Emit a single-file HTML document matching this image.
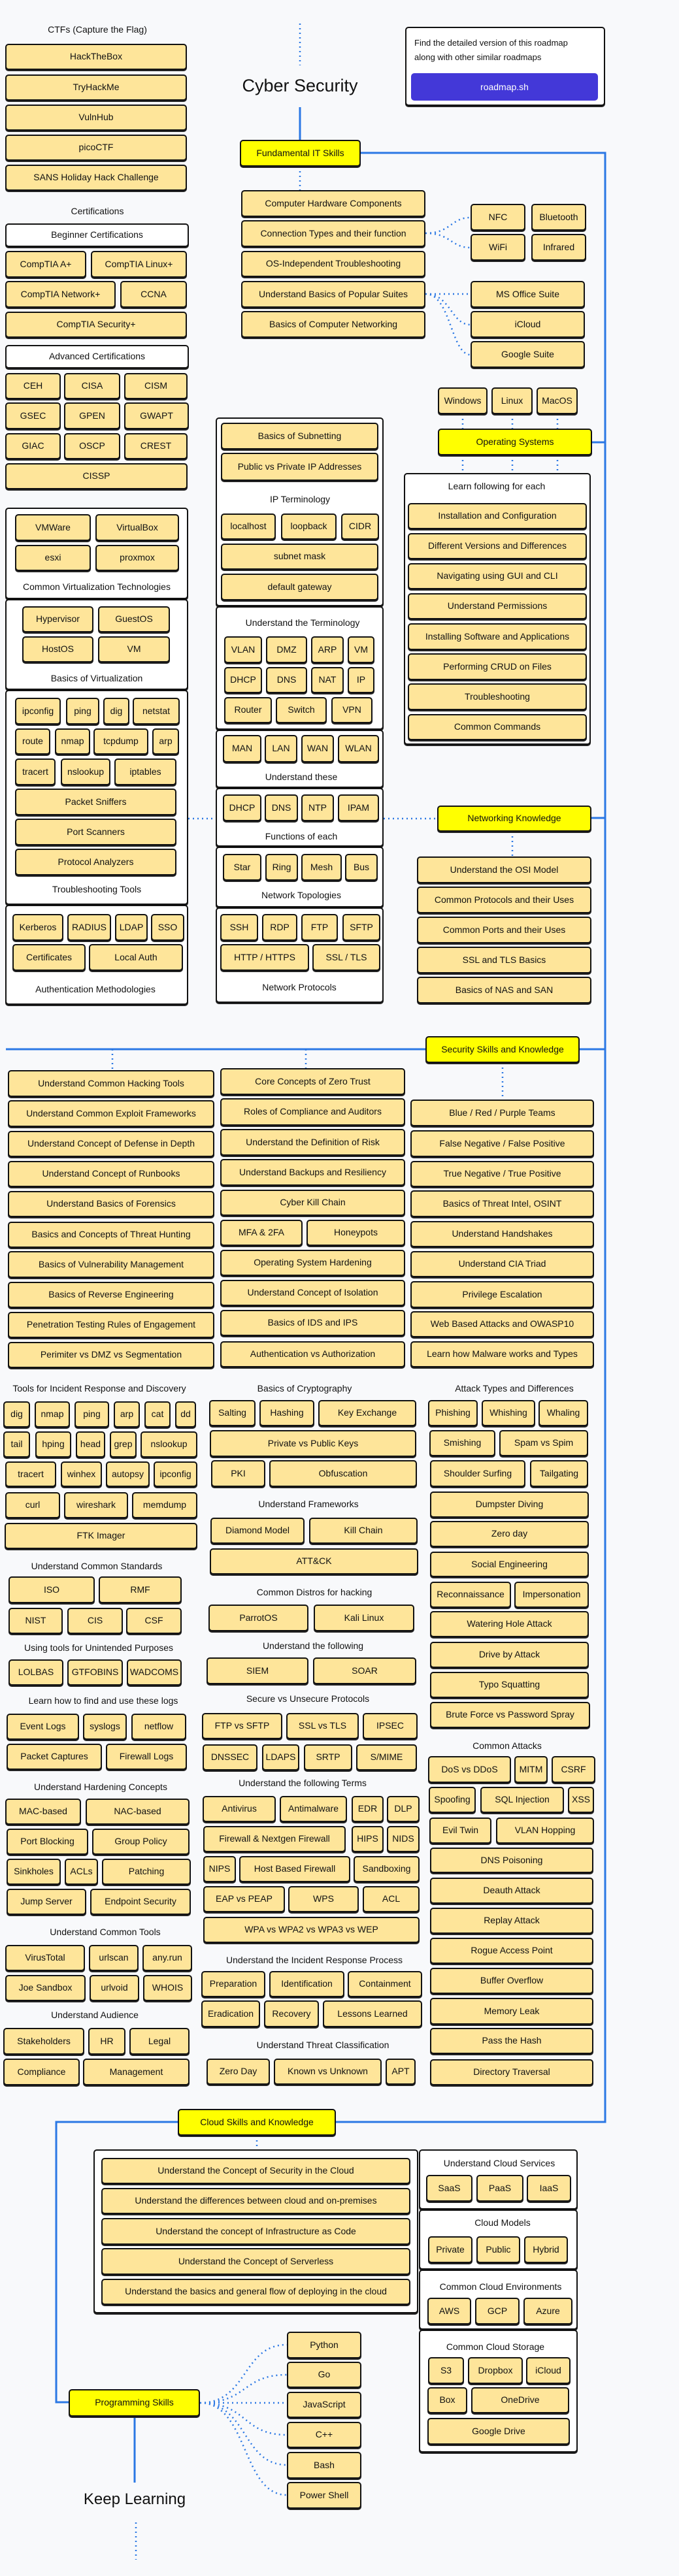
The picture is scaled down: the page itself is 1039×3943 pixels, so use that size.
<!DOCTYPE html>
<html><head><meta charset="utf-8"><style>
*{box-sizing:border-box;margin:0;padding:0}
body{width:1039px;height:3943px;background:#f8f9fb;position:relative;font-family:"Liberation Sans",sans-serif;overflow:hidden}
.n,.y,.w,.g{position:absolute;border:2px solid #111;border-radius:5px;display:flex;align-items:center;justify-content:center;text-align:center;font-size:14px;color:#111;box-shadow:0 2px 0 #222;line-height:1.1;white-space:nowrap}
.n{background:#fee59a}
.y{background:#ffff00}
.w{background:#fff}
.g{background:#fff;box-shadow:0 2px 0 #222}
.t{position:absolute;width:340px;text-align:center;font-size:14px;color:#111;white-space:nowrap}
svg{position:absolute;left:0;top:0}
</style></head><body>
<div class="g" style="left:620px;top:41px;width:306px;height:121px;display:block"></div>
<div style="position:absolute;left:634px;top:55px;font-size:13px;line-height:22px;color:#111">Find the detailed version of this roadmap<br>along with other similar roadmaps</div>
<div style="position:absolute;left:629px;top:112px;width:286px;height:42px;background:#4338d8;border-radius:5px;color:#fff;font-size:14px;display:flex;align-items:center;justify-content:center">roadmap.sh</div>
<div style="position:absolute;left:309px;top:116px;width:300px;text-align:center;font-size:27px;color:#111">Cyber Security</div>
<div style="position:absolute;left:56px;top:3812px;width:300px;text-align:center;font-size:24px;color:#111">Keep Learning</div>

<!-- groups -->
<div class="g" style="left:8px;top:777px;width:280px;height:140px"></div>
<div class="g" style="left:8px;top:917px;width:280px;height:139px"></div>
<div class="g" style="left:8px;top:1056px;width:280px;height:329px"></div>
<div class="g" style="left:8px;top:1385px;width:280px;height:153px"></div>
<div class="g" style="left:330px;top:639px;width:257px;height:289px"></div>
<div class="g" style="left:330px;top:928px;width:257px;height:189px"></div>
<div class="g" style="left:330px;top:1117px;width:257px;height:89px"></div>
<div class="g" style="left:330px;top:1206px;width:257px;height:90px"></div>
<div class="g" style="left:330px;top:1296px;width:257px;height:93px"></div>
<div class="g" style="left:330px;top:1389px;width:257px;height:146px"></div>
<div class="g" style="left:618px;top:724px;width:286px;height:416px"></div>
<div class="g" style="left:143px;top:3290px;width:497px;height:251px"></div>
<div class="g" style="left:641px;top:3290px;width:243px;height:92px"></div>
<div class="g" style="left:641px;top:3382px;width:243px;height:92px"></div>
<div class="g" style="left:641px;top:3474px;width:243px;height:92px"></div>
<div class="g" style="left:641px;top:3566px;width:243px;height:188px"></div>

<svg width="1039" height="3943">
<g stroke="#2b78e4" stroke-width="3" fill="none">
<path d="M459 164V214M552 234H926V3248H86V3677H105M906 677H926M905 1252H926M9 1606H651M887 1606H926M206 3699V3800"/>
</g>
<g stroke="#2b78e4" stroke-width="2.5" fill="none" stroke-dasharray="2 5">
<path d="M459 36V100M459 255V291M708 634V656M784 634V656M853 634V656M708 697V724M784 697V724M853 697V724M288 1253H330M587 1253H669M784 1273V1311M172 1606V1638M468 1606V1635M769 1627V1683M393 3269V3290M208 3861V3918"/>
<path d="M651 357C690 357 690 333 720 333M651 357C690 357 690 379 720 379"/>
<path d="M651 450H720M651 450C690 450 690 497 720 497M651 450C690 450 690 543 720 543"/>
<path d="M306 3678C380 3678 370 3589 439 3589M306 3678C380 3678 370 3635 439 3635M306 3678H439M306 3678C380 3678 370 3727 439 3727M306 3678C380 3678 370 3773 439 3773M306 3678C380 3678 370 3819 439 3819"/>
</g>
</svg>

<!-- labels -->
<div class="t" style="left:-21px;top:37px">CTFs (Capture the Flag)</div>
<div class="t" style="left:-21px;top:315px">Certifications</div>
<div class="t" style="left:-22px;top:890px">Common Virtualization Technologies</div>
<div class="t" style="left:-22px;top:1030px">Basics of Virtualization</div>
<div class="t" style="left:-22px;top:1353px">Troubleshooting Tools</div>
<div class="t" style="left:-24px;top:1506px">Authentication Methodologies</div>
<div class="t" style="left:289px;top:756px">IP Terminology</div>
<div class="t" style="left:293px;top:945px">Understand the Terminology</div>
<div class="t" style="left:291px;top:1181px">Understand these</div>
<div class="t" style="left:291px;top:1272px">Functions of each</div>
<div class="t" style="left:291px;top:1362px">Network Topologies</div>
<div class="t" style="left:288px;top:1503px">Network Protocols</div>
<div class="t" style="left:590px;top:736px">Learn following for each</div>
<div class="t" style="left:-18px;top:2117px">Tools for Incident Response and Discovery</div>
<div class="t" style="left:296px;top:2117px">Basics of Cryptography</div>
<div class="t" style="left:617px;top:2117px">Attack Types and Differences</div>
<div class="t" style="left:-22px;top:2389px">Understand Common Standards</div>
<div class="t" style="left:-19px;top:2514px">Using tools for Unintended Purposes</div>
<div class="t" style="left:-12px;top:2595px">Learn how to find and use these logs</div>
<div class="t" style="left:-16px;top:2727px">Understand Hardening Concepts</div>
<div class="t" style="left:-9px;top:2949px">Understand Common Tools</div>
<div class="t" style="left:-25px;top:3076px">Understand Audience</div>
<div class="t" style="left:302px;top:2294px">Understand Frameworks</div>
<div class="t" style="left:311px;top:2429px">Common Distros for hacking</div>
<div class="t" style="left:309px;top:2511px">Understand the following</div>
<div class="t" style="left:301px;top:2592px">Secure vs Unsecure Protocols</div>
<div class="t" style="left:293px;top:2721px">Understand the following Terms</div>
<div class="t" style="left:311px;top:2992px">Understand the Incident Response Process</div>
<div class="t" style="left:324px;top:3122px">Understand Threat Classification</div>
<div class="t" style="left:606px;top:2664px">Common Attacks</div>
<div class="t" style="left:594px;top:3303px">Understand Cloud Services</div>
<div class="t" style="left:599px;top:3394px">Cloud Models</div>
<div class="t" style="left:596px;top:3492px">Common Cloud Environments</div>
<div class="t" style="left:588px;top:3584px">Common Cloud Storage</div>

<!-- yellow keys -->
<div class="y" style="left:367px;top:214px;width:185px;height:41px">Fundamental IT Skills</div>
<div class="y" style="left:670px;top:656px;width:236px;height:41px">Operating Systems</div>
<div class="y" style="left:669px;top:1233px;width:236px;height:40px">Networking Knowledge</div>
<div class="y" style="left:651px;top:1586px;width:236px;height:41px">Security Skills and Knowledge</div>
<div class="y" style="left:272px;top:3228px;width:242px;height:41px">Cloud Skills and Knowledge</div>
<div class="y" style="left:105px;top:3657px;width:201px;height:42px">Programming Skills</div>

<!-- left top -->
<div class="n" style="left:8px;top:67px;width:278px;height:40px">HackTheBox</div>
<div class="n" style="left:8px;top:114px;width:278px;height:40px">TryHackMe</div>
<div class="n" style="left:8px;top:160px;width:278px;height:40px">VulnHub</div>
<div class="n" style="left:8px;top:206px;width:278px;height:40px">picoCTF</div>
<div class="n" style="left:8px;top:252px;width:278px;height:40px">SANS Holiday Hack Challenge</div>
<div class="w" style="left:8px;top:342px;width:281px;height:36px">Beginner Certifications</div>
<div class="n" style="left:8px;top:384px;width:124px;height:41px">CompTIA A+</div>
<div class="n" style="left:139px;top:384px;width:147px;height:41px">CompTIA Linux+</div>
<div class="n" style="left:8px;top:430px;width:169px;height:41px">CompTIA Network+</div>
<div class="n" style="left:184px;top:430px;width:102px;height:41px">CCNA</div>
<div class="n" style="left:8px;top:477px;width:278px;height:40px">CompTIA Security+</div>
<div class="w" style="left:8px;top:528px;width:281px;height:36px">Advanced Certifications</div>
<div class="n" style="left:8px;top:571px;width:85px;height:40px">CEH</div>
<div class="n" style="left:98px;top:571px;width:86px;height:40px">CISA</div>
<div class="n" style="left:190px;top:571px;width:97px;height:40px">CISM</div>
<div class="n" style="left:8px;top:616px;width:85px;height:41px">GSEC</div>
<div class="n" style="left:98px;top:616px;width:86px;height:41px">GPEN</div>
<div class="n" style="left:190px;top:616px;width:99px;height:41px">GWAPT</div>
<div class="n" style="left:8px;top:663px;width:85px;height:40px">GIAC</div>
<div class="n" style="left:98px;top:663px;width:86px;height:40px">OSCP</div>
<div class="n" style="left:190px;top:663px;width:97px;height:40px">CREST</div>
<div class="n" style="left:8px;top:709px;width:279px;height:40px">CISSP</div>

<div class="n" style="left:23px;top:787px;width:116px;height:41px">VMWare</div>
<div class="n" style="left:146px;top:787px;width:128px;height:41px">VirtualBox</div>
<div class="n" style="left:23px;top:834px;width:116px;height:40px">esxi</div>
<div class="n" style="left:146px;top:834px;width:128px;height:40px">proxmox</div>
<div class="n" style="left:34px;top:928px;width:109px;height:40px">Hypervisor</div>
<div class="n" style="left:150px;top:928px;width:110px;height:40px">GuestOS</div>
<div class="n" style="left:34px;top:974px;width:109px;height:40px">HostOS</div>
<div class="n" style="left:150px;top:974px;width:110px;height:40px">VM</div>
<div class="n" style="left:23px;top:1068px;width:70px;height:41px">ipconfig</div>
<div class="n" style="left:101px;top:1068px;width:51px;height:41px">ping</div>
<div class="n" style="left:158px;top:1068px;width:40px;height:41px">dig</div>
<div class="n" style="left:203px;top:1068px;width:72px;height:41px">netstat</div>
<div class="n" style="left:23px;top:1115px;width:54px;height:40px">route</div>
<div class="n" style="left:84px;top:1115px;width:54px;height:40px">nmap</div>
<div class="n" style="left:143px;top:1115px;width:84px;height:40px">tcpdump</div>
<div class="n" style="left:233px;top:1115px;width:41px;height:40px">arp</div>
<div class="n" style="left:23px;top:1161px;width:62px;height:41px">tracert</div>
<div class="n" style="left:93px;top:1161px;width:76px;height:41px">nslookup</div>
<div class="n" style="left:175px;top:1161px;width:95px;height:41px">iptables</div>
<div class="n" style="left:23px;top:1207px;width:247px;height:41px">Packet Sniffers</div>
<div class="n" style="left:23px;top:1253px;width:247px;height:41px">Port Scanners</div>
<div class="n" style="left:23px;top:1299px;width:247px;height:41px">Protocol Analyzers</div>
<div class="n" style="left:19px;top:1399px;width:78px;height:41px">Kerberos</div>
<div class="n" style="left:103px;top:1399px;width:67px;height:41px">RADIUS</div>
<div class="n" style="left:176px;top:1399px;width:50px;height:41px">LDAP</div>
<div class="n" style="left:231px;top:1399px;width:51px;height:41px">SSO</div>
<div class="n" style="left:19px;top:1445px;width:112px;height:41px">Certificates</div>
<div class="n" style="left:136px;top:1445px;width:144px;height:41px">Local Auth</div>

<!-- middle top -->
<div class="n" style="left:369px;top:291px;width:282px;height:41px">Computer Hardware Components</div>
<div class="n" style="left:369px;top:337px;width:282px;height:41px">Connection Types and their function</div>
<div class="n" style="left:369px;top:384px;width:282px;height:40px">OS-Independent Troubleshooting</div>
<div class="n" style="left:369px;top:430px;width:282px;height:41px">Understand Basics of Popular Suites</div>
<div class="n" style="left:369px;top:476px;width:282px;height:41px">Basics of Computer Networking</div>
<div class="n" style="left:720px;top:312px;width:84px;height:41px">NFC</div>
<div class="n" style="left:813px;top:312px;width:84px;height:41px">Bluetooth</div>
<div class="n" style="left:720px;top:358px;width:84px;height:41px">WiFi</div>
<div class="n" style="left:813px;top:358px;width:84px;height:41px">Infrared</div>
<div class="n" style="left:720px;top:430px;width:175px;height:41px">MS Office Suite</div>
<div class="n" style="left:720px;top:476px;width:175px;height:41px">iCloud</div>
<div class="n" style="left:720px;top:522px;width:175px;height:41px">Google Suite</div>

<div class="n" style="left:670px;top:593px;width:76px;height:41px">Windows</div>
<div class="n" style="left:752px;top:593px;width:63px;height:41px">Linux</div>
<div class="n" style="left:821px;top:593px;width:63px;height:41px">MacOS</div>
<div class="n" style="left:624px;top:770px;width:274px;height:40px">Installation and Configuration</div>
<div class="n" style="left:624px;top:816px;width:274px;height:40px">Different Versions and Differences</div>
<div class="n" style="left:624px;top:862px;width:274px;height:40px">Navigating using GUI and CLI</div>
<div class="n" style="left:624px;top:908px;width:274px;height:40px">Understand Permissions</div>
<div class="n" style="left:624px;top:954px;width:274px;height:41px">Installing Software and Applications</div>
<div class="n" style="left:624px;top:1000px;width:274px;height:41px">Performing CRUD on Files</div>
<div class="n" style="left:624px;top:1046px;width:274px;height:41px">Troubleshooting</div>
<div class="n" style="left:624px;top:1093px;width:274px;height:40px">Common Commands</div>

<div class="n" style="left:338px;top:647px;width:241px;height:41px">Basics of Subnetting</div>
<div class="n" style="left:338px;top:693px;width:241px;height:43px">Public vs Private IP Addresses</div>
<div class="n" style="left:338px;top:786px;width:84px;height:40px">localhost</div>
<div class="n" style="left:430px;top:786px;width:85px;height:40px">loopback</div>
<div class="n" style="left:522px;top:786px;width:58px;height:40px">CIDR</div>
<div class="n" style="left:338px;top:832px;width:241px;height:40px">subnet mask</div>
<div class="n" style="left:338px;top:878px;width:241px;height:41px">default gateway</div>
<div class="n" style="left:343px;top:974px;width:58px;height:41px">VLAN</div>
<div class="n" style="left:407px;top:974px;width:63px;height:41px">DMZ</div>
<div class="n" style="left:476px;top:974px;width:50px;height:41px">ARP</div>
<div class="n" style="left:532px;top:974px;width:41px;height:41px">VM</div>
<div class="n" style="left:343px;top:1021px;width:58px;height:40px">DHCP</div>
<div class="n" style="left:407px;top:1021px;width:63px;height:40px">DNS</div>
<div class="n" style="left:476px;top:1021px;width:50px;height:40px">NAT</div>
<div class="n" style="left:532px;top:1021px;width:41px;height:40px">IP</div>
<div class="n" style="left:343px;top:1067px;width:73px;height:40px">Router</div>
<div class="n" style="left:422px;top:1067px;width:78px;height:40px">Switch</div>
<div class="n" style="left:507px;top:1067px;width:63px;height:40px">VPN</div>
<div class="n" style="left:341px;top:1125px;width:59px;height:42px">MAN</div>
<div class="n" style="left:405px;top:1125px;width:50px;height:42px">LAN</div>
<div class="n" style="left:461px;top:1125px;width:50px;height:42px">WAN</div>
<div class="n" style="left:517px;top:1125px;width:63px;height:42px">WLAN</div>
<div class="n" style="left:341px;top:1216px;width:59px;height:41px">DHCP</div>
<div class="n" style="left:405px;top:1216px;width:51px;height:41px">DNS</div>
<div class="n" style="left:461px;top:1216px;width:50px;height:41px">NTP</div>
<div class="n" style="left:517px;top:1216px;width:63px;height:41px">IPAM</div>
<div class="n" style="left:341px;top:1307px;width:59px;height:41px">Star</div>
<div class="n" style="left:406px;top:1307px;width:50px;height:41px">Ring</div>
<div class="n" style="left:461px;top:1307px;width:62px;height:41px">Mesh</div>
<div class="n" style="left:528px;top:1307px;width:50px;height:41px">Bus</div>
<div class="n" style="left:337px;top:1399px;width:58px;height:41px">SSH</div>
<div class="n" style="left:401px;top:1399px;width:54px;height:41px">RDP</div>
<div class="n" style="left:461px;top:1399px;width:56px;height:41px">FTP</div>
<div class="n" style="left:524px;top:1399px;width:58px;height:41px">SFTP</div>
<div class="n" style="left:337px;top:1445px;width:136px;height:41px">HTTP / HTTPS</div>
<div class="n" style="left:478px;top:1445px;width:104px;height:41px">SSL / TLS</div>

<div class="n" style="left:638px;top:1311px;width:267px;height:41px">Understand the OSI Model</div>
<div class="n" style="left:638px;top:1357px;width:267px;height:41px">Common Protocols and their Uses</div>
<div class="n" style="left:638px;top:1403px;width:267px;height:41px">Common Ports and their Uses</div>
<div class="n" style="left:638px;top:1449px;width:267px;height:41px">SSL and TLS Basics</div>
<div class="n" style="left:638px;top:1495px;width:267px;height:41px">Basics of NAS and SAN</div>

<!-- security grid -->
<div class="n" style="left:12px;top:1638px;width:316px;height:41px">Understand Common Hacking Tools</div>
<div class="n" style="left:12px;top:1684px;width:316px;height:41px">Understand Common Exploit Frameworks</div>
<div class="n" style="left:12px;top:1731px;width:316px;height:40px">Understand Concept of Defense in Depth</div>
<div class="n" style="left:12px;top:1777px;width:316px;height:40px">Understand Concept of Runbooks</div>
<div class="n" style="left:12px;top:1823px;width:316px;height:40px">Understand Basics of Forensics</div>
<div class="n" style="left:12px;top:1870px;width:316px;height:40px">Basics and Concepts of Threat Hunting</div>
<div class="n" style="left:12px;top:1915px;width:316px;height:41px">Basics of Vulnerability Management</div>
<div class="n" style="left:12px;top:1962px;width:316px;height:40px">Basics of Reverse Engineering</div>
<div class="n" style="left:12px;top:2008px;width:316px;height:40px">Penetration Testing Rules of Engagement</div>
<div class="n" style="left:12px;top:2054px;width:316px;height:40px">Perimiter vs DMZ vs Segmentation</div>
<div class="n" style="left:337px;top:1635px;width:283px;height:41px">Core Concepts of Zero Trust</div>
<div class="n" style="left:337px;top:1681px;width:283px;height:42px">Roles of Compliance and Auditors</div>
<div class="n" style="left:337px;top:1728px;width:283px;height:41px">Understand the Definition of Risk</div>
<div class="n" style="left:337px;top:1774px;width:283px;height:41px">Understand Backups and Resiliency</div>
<div class="n" style="left:337px;top:1821px;width:283px;height:40px">Cyber Kill Chain</div>
<div class="n" style="left:337px;top:1867px;width:126px;height:40px">MFA &amp; 2FA</div>
<div class="n" style="left:469px;top:1867px;width:151px;height:40px">Honeypots</div>
<div class="n" style="left:337px;top:1913px;width:283px;height:40px">Operating System Hardening</div>
<div class="n" style="left:337px;top:1959px;width:283px;height:40px">Understand Concept of Isolation</div>
<div class="n" style="left:337px;top:2005px;width:283px;height:40px">Basics of IDS and IPS</div>
<div class="n" style="left:337px;top:2053px;width:283px;height:40px">Authentication vs Authorization</div>
<div class="n" style="left:628px;top:1683px;width:281px;height:41px">Blue / Red / Purple Teams</div>
<div class="n" style="left:628px;top:1730px;width:281px;height:41px">False Negative / False Positive</div>
<div class="n" style="left:628px;top:1777px;width:281px;height:40px">True Negative / True Positive</div>
<div class="n" style="left:628px;top:1822px;width:281px;height:41px">Basics of Threat Intel, OSINT</div>
<div class="n" style="left:628px;top:1869px;width:281px;height:40px">Understand Handshakes</div>
<div class="n" style="left:628px;top:1915px;width:281px;height:40px">Understand CIA Triad</div>
<div class="n" style="left:628px;top:1961px;width:281px;height:41px">Privilege Escalation</div>
<div class="n" style="left:628px;top:2007px;width:281px;height:40px">Web Based Attacks and OWASP10</div>
<div class="n" style="left:628px;top:2053px;width:281px;height:40px">Learn how Malware works and Types</div>

<!-- IR tools -->
<div class="n" style="left:5px;top:2145px;width:41px;height:40px">dig</div>
<div class="n" style="left:53px;top:2145px;width:54px;height:40px">nmap</div>
<div class="n" style="left:114px;top:2145px;width:53px;height:40px">ping</div>
<div class="n" style="left:174px;top:2145px;width:40px;height:40px">arp</div>
<div class="n" style="left:221px;top:2145px;width:40px;height:40px">cat</div>
<div class="n" style="left:268px;top:2145px;width:32px;height:40px">dd</div>
<div class="n" style="left:5px;top:2191px;width:41px;height:40px">tail</div>
<div class="n" style="left:54px;top:2191px;width:55px;height:40px">hping</div>
<div class="n" style="left:116px;top:2191px;width:45px;height:40px">head</div>
<div class="n" style="left:168px;top:2191px;width:41px;height:40px">grep</div>
<div class="n" style="left:215px;top:2191px;width:87px;height:40px">nslookup</div>
<div class="n" style="left:8px;top:2237px;width:78px;height:39px">tracert</div>
<div class="n" style="left:93px;top:2237px;width:63px;height:39px">winhex</div>
<div class="n" style="left:162px;top:2237px;width:67px;height:39px">autopsy</div>
<div class="n" style="left:235px;top:2237px;width:67px;height:39px">ipconfig</div>
<div class="n" style="left:8px;top:2284px;width:84px;height:40px">curl</div>
<div class="n" style="left:98px;top:2284px;width:98px;height:40px">wireshark</div>
<div class="n" style="left:202px;top:2284px;width:100px;height:40px">memdump</div>
<div class="n" style="left:7px;top:2331px;width:295px;height:40px">FTK Imager</div>
<div class="n" style="left:13px;top:2413px;width:132px;height:41px">ISO</div>
<div class="n" style="left:151px;top:2413px;width:127px;height:41px">RMF</div>
<div class="n" style="left:13px;top:2461px;width:83px;height:40px">NIST</div>
<div class="n" style="left:103px;top:2461px;width:85px;height:40px">CIS</div>
<div class="n" style="left:193px;top:2461px;width:85px;height:40px">CSF</div>
<div class="n" style="left:13px;top:2540px;width:84px;height:40px">LOLBAS</div>
<div class="n" style="left:103px;top:2540px;width:85px;height:40px">GTFOBINS</div>
<div class="n" style="left:194px;top:2540px;width:84px;height:40px">WADCOMS</div>
<div class="n" style="left:10px;top:2623px;width:111px;height:40px">Event Logs</div>
<div class="n" style="left:127px;top:2623px;width:67px;height:40px">syslogs</div>
<div class="n" style="left:201px;top:2623px;width:84px;height:40px">netflow</div>
<div class="n" style="left:10px;top:2669px;width:146px;height:40px">Packet Captures</div>
<div class="n" style="left:162px;top:2669px;width:124px;height:40px">Firewall Logs</div>
<div class="n" style="left:8px;top:2753px;width:116px;height:40px">MAC-based</div>
<div class="n" style="left:131px;top:2753px;width:159px;height:40px">NAC-based</div>
<div class="n" style="left:10px;top:2799px;width:125px;height:40px">Port Blocking</div>
<div class="n" style="left:141px;top:2799px;width:149px;height:40px">Group Policy</div>
<div class="n" style="left:10px;top:2845px;width:83px;height:40px">Sinkholes</div>
<div class="n" style="left:99px;top:2845px;width:51px;height:40px">ACLs</div>
<div class="n" style="left:156px;top:2845px;width:136px;height:40px">Patching</div>
<div class="n" style="left:10px;top:2891px;width:122px;height:40px">Jump Server</div>
<div class="n" style="left:138px;top:2891px;width:154px;height:40px">Endpoint Security</div>
<div class="n" style="left:8px;top:2977px;width:122px;height:40px">VirusTotal</div>
<div class="n" style="left:136px;top:2977px;width:76px;height:40px">urlscan</div>
<div class="n" style="left:218px;top:2977px;width:76px;height:40px">any.run</div>
<div class="n" style="left:8px;top:3023px;width:123px;height:40px">Joe Sandbox</div>
<div class="n" style="left:137px;top:3023px;width:76px;height:40px">urlvoid</div>
<div class="n" style="left:219px;top:3023px;width:75px;height:40px">WHOIS</div>
<div class="n" style="left:5px;top:3104px;width:124px;height:41px">Stakeholders</div>
<div class="n" style="left:135px;top:3104px;width:57px;height:41px">HR</div>
<div class="n" style="left:198px;top:3104px;width:92px;height:41px">Legal</div>
<div class="n" style="left:5px;top:3151px;width:117px;height:41px">Compliance</div>
<div class="n" style="left:127px;top:3151px;width:163px;height:41px">Management</div>

<!-- crypto / middle -->
<div class="n" style="left:320px;top:2143px;width:71px;height:40px">Salting</div>
<div class="n" style="left:397px;top:2143px;width:84px;height:40px">Hashing</div>
<div class="n" style="left:487px;top:2143px;width:150px;height:40px">Key Exchange</div>
<div class="n" style="left:321px;top:2189px;width:316px;height:41px">Private vs Public Keys</div>
<div class="n" style="left:323px;top:2235px;width:83px;height:41px">PKI</div>
<div class="n" style="left:412px;top:2235px;width:226px;height:41px">Obfuscation</div>
<div class="n" style="left:322px;top:2323px;width:144px;height:40px">Diamond Model</div>
<div class="n" style="left:473px;top:2323px;width:166px;height:40px">Kill Chain</div>
<div class="n" style="left:321px;top:2370px;width:319px;height:40px">ATT&amp;CK</div>
<div class="n" style="left:319px;top:2456px;width:153px;height:41px">ParrotOS</div>
<div class="n" style="left:480px;top:2456px;width:154px;height:41px">Kali Linux</div>
<div class="n" style="left:316px;top:2537px;width:156px;height:41px">SIEM</div>
<div class="n" style="left:479px;top:2537px;width:158px;height:41px">SOAR</div>
<div class="n" style="left:309px;top:2622px;width:123px;height:40px">FTP vs SFTP</div>
<div class="n" style="left:438px;top:2622px;width:111px;height:40px">SSL vs TLS</div>
<div class="n" style="left:555px;top:2622px;width:84px;height:40px">IPSEC</div>
<div class="n" style="left:310px;top:2670px;width:84px;height:40px">DNSSEC</div>
<div class="n" style="left:401px;top:2670px;width:57px;height:40px">LDAPS</div>
<div class="n" style="left:465px;top:2670px;width:74px;height:40px">SRTP</div>
<div class="n" style="left:545px;top:2670px;width:93px;height:40px">S/MIME</div>
<div class="n" style="left:310px;top:2749px;width:112px;height:40px">Antivirus</div>
<div class="n" style="left:428px;top:2749px;width:103px;height:40px">Antimalware</div>
<div class="n" style="left:538px;top:2749px;width:49px;height:40px">EDR</div>
<div class="n" style="left:592px;top:2749px;width:50px;height:40px">DLP</div>
<div class="n" style="left:311px;top:2795px;width:218px;height:40px">Firewall &amp; Nextgen Firewall</div>
<div class="n" style="left:538px;top:2795px;width:49px;height:40px">HIPS</div>
<div class="n" style="left:592px;top:2795px;width:50px;height:40px">NIDS</div>
<div class="n" style="left:311px;top:2841px;width:50px;height:40px">NIPS</div>
<div class="n" style="left:366px;top:2841px;width:170px;height:40px">Host Based Firewall</div>
<div class="n" style="left:541px;top:2841px;width:101px;height:40px">Sandboxing</div>
<div class="n" style="left:311px;top:2887px;width:125px;height:40px">EAP vs PEAP</div>
<div class="n" style="left:441px;top:2887px;width:108px;height:40px">WPS</div>
<div class="n" style="left:555px;top:2887px;width:87px;height:40px">ACL</div>
<div class="n" style="left:311px;top:2934px;width:331px;height:40px">WPA vs WPA2 vs WPA3 vs WEP</div>
<div class="n" style="left:308px;top:3017px;width:98px;height:40px">Preparation</div>
<div class="n" style="left:412px;top:3017px;width:115px;height:40px">Identification</div>
<div class="n" style="left:532px;top:3017px;width:114px;height:40px">Containment</div>
<div class="n" style="left:308px;top:3062px;width:90px;height:41px">Eradication</div>
<div class="n" style="left:404px;top:3062px;width:84px;height:41px">Recovery</div>
<div class="n" style="left:494px;top:3062px;width:152px;height:41px">Lessons Learned</div>
<div class="n" style="left:316px;top:3151px;width:97px;height:40px">Zero Day</div>
<div class="n" style="left:419px;top:3151px;width:165px;height:40px">Known vs Unknown</div>
<div class="n" style="left:590px;top:3151px;width:46px;height:40px">APT</div>

<!-- attacks -->
<div class="n" style="left:655px;top:2143px;width:76px;height:40px">Phishing</div>
<div class="n" style="left:737px;top:2143px;width:82px;height:40px">Whishing</div>
<div class="n" style="left:824px;top:2143px;width:76px;height:40px">Whaling</div>
<div class="n" style="left:657px;top:2189px;width:101px;height:40px">Smishing</div>
<div class="n" style="left:764px;top:2189px;width:136px;height:40px">Spam vs Spim</div>
<div class="n" style="left:658px;top:2235px;width:146px;height:41px">Shoulder Surfing</div>
<div class="n" style="left:811px;top:2235px;width:89px;height:41px">Tailgating</div>
<div class="n" style="left:658px;top:2283px;width:243px;height:40px">Dumpster Diving</div>
<div class="n" style="left:658px;top:2328px;width:243px;height:40px">Zero day</div>
<div class="n" style="left:658px;top:2375px;width:243px;height:39px">Social Engineering</div>
<div class="n" style="left:658px;top:2421px;width:124px;height:40px">Reconnaissance</div>
<div class="n" style="left:787px;top:2421px;width:114px;height:40px">Impersonation</div>
<div class="n" style="left:658px;top:2466px;width:243px;height:40px">Watering Hole Attack</div>
<div class="n" style="left:658px;top:2513px;width:243px;height:40px">Drive by Attack</div>
<div class="n" style="left:658px;top:2559px;width:243px;height:40px">Typo Squatting</div>
<div class="n" style="left:658px;top:2605px;width:245px;height:40px">Brute Force vs Password Spray</div>
<div class="n" style="left:655px;top:2688px;width:127px;height:41px">DoS vs DDoS</div>
<div class="n" style="left:787px;top:2688px;width:51px;height:41px">MITM</div>
<div class="n" style="left:844px;top:2688px;width:67px;height:41px">CSRF</div>
<div class="n" style="left:656px;top:2735px;width:72px;height:40px">Spoofing</div>
<div class="n" style="left:735px;top:2735px;width:128px;height:40px">SQL Injection</div>
<div class="n" style="left:869px;top:2735px;width:40px;height:40px">XSS</div>
<div class="n" style="left:657px;top:2782px;width:95px;height:40px">Evil Twin</div>
<div class="n" style="left:759px;top:2782px;width:150px;height:40px">VLAN Hopping</div>
<div class="n" style="left:658px;top:2828px;width:250px;height:39px">DNS Poisoning</div>
<div class="n" style="left:658px;top:2874px;width:250px;height:40px">Deauth Attack</div>
<div class="n" style="left:658px;top:2920px;width:250px;height:40px">Replay Attack</div>
<div class="n" style="left:658px;top:2966px;width:250px;height:40px">Rogue Access Point</div>
<div class="n" style="left:658px;top:3012px;width:250px;height:40px">Buffer Overflow</div>
<div class="n" style="left:658px;top:3058px;width:250px;height:41px">Memory Leak</div>
<div class="n" style="left:658px;top:3104px;width:250px;height:40px">Pass the Hash</div>
<div class="n" style="left:658px;top:3152px;width:250px;height:40px">Directory Traversal</div>

<!-- cloud -->
<div class="n" style="left:155px;top:3303px;width:473px;height:40px">Understand the Concept of Security in the Cloud</div>
<div class="n" style="left:155px;top:3349px;width:473px;height:40px">Understand the differences between cloud and on-premises</div>
<div class="n" style="left:155px;top:3395px;width:473px;height:41px">Understand the concept of Infrastructure as Code</div>
<div class="n" style="left:155px;top:3441px;width:473px;height:41px">Understand the Concept of Serverless</div>
<div class="n" style="left:155px;top:3488px;width:473px;height:40px">Understand the basics and general flow of deploying in the cloud</div>
<div class="n" style="left:652px;top:3329px;width:71px;height:41px">SaaS</div>
<div class="n" style="left:729px;top:3329px;width:72px;height:41px">PaaS</div>
<div class="n" style="left:806px;top:3329px;width:68px;height:41px">IaaS</div>
<div class="n" style="left:655px;top:3423px;width:68px;height:41px">Private</div>
<div class="n" style="left:729px;top:3423px;width:67px;height:41px">Public</div>
<div class="n" style="left:802px;top:3423px;width:67px;height:41px">Hybrid</div>
<div class="n" style="left:654px;top:3517px;width:67px;height:41px">AWS</div>
<div class="n" style="left:727px;top:3517px;width:68px;height:41px">GCP</div>
<div class="n" style="left:801px;top:3517px;width:75px;height:41px">Azure</div>
<div class="n" style="left:655px;top:3608px;width:55px;height:41px">S3</div>
<div class="n" style="left:716px;top:3608px;width:84px;height:41px">Dropbox</div>
<div class="n" style="left:805px;top:3608px;width:68px;height:41px">iCloud</div>
<div class="n" style="left:654px;top:3654px;width:61px;height:40px">Box</div>
<div class="n" style="left:721px;top:3654px;width:150px;height:40px">OneDrive</div>
<div class="n" style="left:654px;top:3701px;width:218px;height:41px">Google Drive</div>

<div class="n" style="left:439px;top:3569px;width:114px;height:41px">Python</div>
<div class="n" style="left:439px;top:3615px;width:114px;height:40px">Go</div>
<div class="n" style="left:439px;top:3661px;width:114px;height:40px">JavaScript</div>
<div class="n" style="left:439px;top:3707px;width:114px;height:40px">C++</div>
<div class="n" style="left:439px;top:3753px;width:114px;height:41px">Bash</div>
<div class="n" style="left:439px;top:3799px;width:114px;height:41px">Power Shell</div>
</body></html>
